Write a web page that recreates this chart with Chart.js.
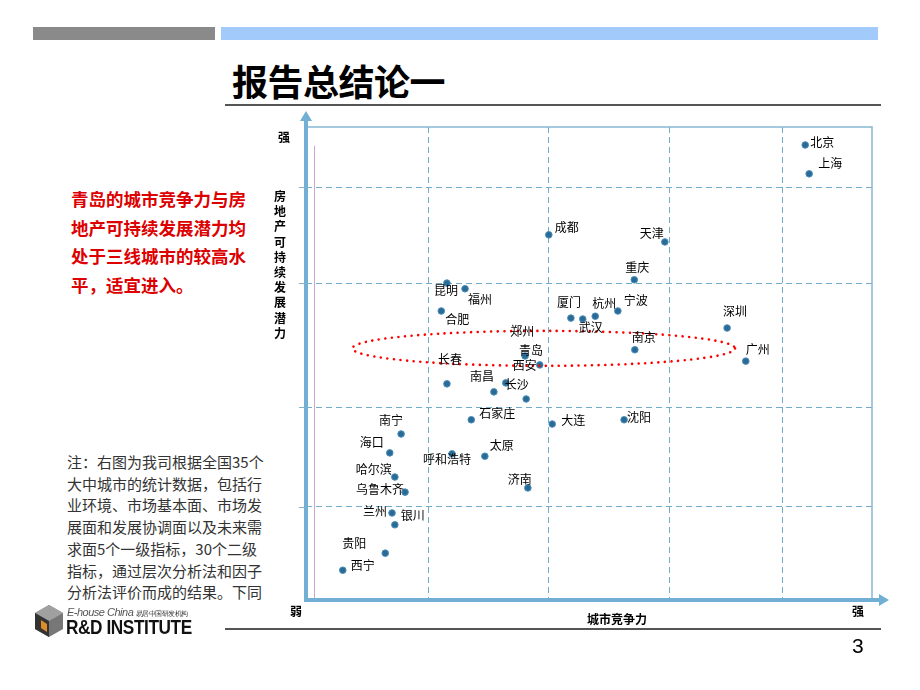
<!DOCTYPE html>
<html>
<head>
<meta charset="utf-8">
<script src="https://cdn.jsdelivr.net/npm/chart.js@4"></script>
<style>
  html, body { margin:0; padding:0; background:#fff; }
  #page { position:relative; width:920px; height:690px; overflow:hidden; font-family:"Noto Sans CJK SC", "Noto Sans", sans-serif; }
  #c { position:absolute; left:0; top:0; }
  .abs { position:absolute; white-space:nowrap; }
  .bar-gray { left:33px; top:27px; width:182px; height:13px; background:#8a8a8a; }
  .bar-blue { left:221px; top:27px; width:657px; height:13px; background:#a2cbfb; }
  .title { left:232px; top:56px; font-size:36px; font-weight:bold; color:#000; line-height:48px; letter-spacing:-0.5px; }
  .rule { left:225px; width:656px; height:2px; background:#555; }
  .red { left:71px; top:185px; font-size:17.5px; font-weight:bold; color:#dd0000; line-height:28.5px; }
  .note { left:67px; top:451px; font-size:15px; color:#333; line-height:21.7px; }
  .axlab { font-size:12px; font-weight:bold; color:#000; line-height:15px; }
  .vtitle { left:273px; top:188px; width:14px; text-align:center; white-space:normal; font-size:12px; font-weight:bold; line-height:15.2px; }
  .pnum { left:852px; top:634px; font-size:21px; font-family:"Liberation Sans", Arial, sans-serif; color:#000; }
</style>
</head>
<body>
<div id="page">
  <div class="abs bar-gray"></div>
  <div class="abs bar-blue"></div>
  <div class="abs title">报告总结论一</div>
  <div class="abs rule" style="top:104px;"></div>
  <div class="abs red">青岛的城市竞争力与房<br>地产可持续发展潜力均<br>处于三线城市的较高水<br>平，适宜进入。</div>
  <div class="abs note">注：右图为我司根据全国35个<br>大中城市的统计数据，包括行<br>业环境、市场基本面、市场发<br>展面和发展协调面以及未来需<br>求面5个一级指标，30个二级<br>指标，通过层次分析法和因子<br>分析法评价而成的结果。下同</div>
  <canvas id="c" width="920" height="690"></canvas>
  <div class="abs axlab" style="left:278px; top:129px;">强</div>
  <div class="abs axlab vtitle">房地产可持续发展潜力</div>
  <div class="abs axlab" style="left:290px; top:603px;">弱</div>
  <div class="abs axlab" style="left:852px; top:603px;">强</div>
  <div class="abs axlab" style="left:587px; top:611px;">城市竞争力</div>
  <div class="abs rule" style="top:628px; height:1.5px;"></div>
  <div class="abs pnum">3</div>
  <!-- logo -->
  <svg class="abs" style="left:33px; top:604px;" width="32" height="34" viewBox="0 0 32 34">
    <polygon points="16,1 30,9 30,25 16,33 2,25 2,9" fill="#777"/>
    <polygon points="16,1 30,9 16,17 2,9" fill="#a0a0a0"/>
    <polygon points="2,9 16,17 16,33 2,25" fill="#333"/>
    <polygon points="8,16 14,20 14,28 8,24" fill="#e08a2a"/>
  </svg>
  <div class="abs" style="left:67px; top:606px; font-size:11px; font-style:italic; color:#555; font-family:'Liberation Sans', sans-serif; letter-spacing:-0.5px;">E-house China <span style="font-style:normal; font-size:7px; color:#333;">易居中国研发机构</span></div>
  <div class="abs" style="left:66px; top:615px; font-size:21px; font-weight:bold; color:#111; font-family:'Liberation Sans', sans-serif; transform:scaleX(0.82); transform-origin:left top; letter-spacing:-0.5px;">R&amp;D INSTITUTE</div>
</div>
<script>
// ---- data ----
const cities = ["北京","上海","成都","天津","重庆","昆明","福州","合肥","厦门","武汉","杭州","宁波","南京","深圳","广州","郑州","青岛","西安","长春","南昌","长沙","石家庄","大连","沈阳","南宁","海口","呼和浩特","太原","哈尔滨","乌鲁木齐","济南","兰州","银川","贵阳","西宁"];
const competitiveness = [88.2,88.9,42.9,63.4,58.0,24.9,28.1,23.9,46.8,48.9,51.1,55.1,58.1,74.4,77.7,38.9,38.7,41.3,24.9,33.2,35.3,29.2,43.5,56.2,16.8,14.8,25.8,31.6,15.7,17.5,39.2,15.2,15.7,14.0,6.5];
const potential = [96.2,90.1,77.2,75.7,67.7,67.0,65.8,61.1,59.6,59.4,60.0,61.1,52.9,57.5,50.5,42.5,51.6,49.7,45.7,44.0,45.9,38.1,37.2,38.1,35.1,31.1,30.9,30.4,26.0,22.8,23.7,18.4,15.9,9.9,6.3];
const xGridValues = [21.6, 42.9, 64.3, 84.1];
const yGridValues = [19.7, 40.8, 67.0, 87.3];
// highlighted group (ellipse) in data units: center x, center y, half-width, half-height
const highlight = [42.0, 53.2, 33.8, 3.7];

// label placement offsets (pixels) relative to each point
const labelDx = [17,21,18,-13,3,-1,15,16,-2,8,9,18,9,8,12,-4,6,-15,3,-12,11,26,21,15,-10,-18,-5,17,-21,-25,-8,-17,18,-31,20];
const labelDy = [-3,-10,-7,-9,-12,7,11,8,-16,8,-13,-11,-12,-17,-12,-68,-5,1,-24,-15,2,-6,-4,-2,-14,-10,6,-11,-8,-3,-8,-2,-9,-10,-5];

const points = cities.map((c, i) => ({ x: competitiveness[i], y: potential[i] }));

const decor = {
  id: 'decor',
  beforeDatasetsDraw(chart) {
    const ctx = chart.ctx, xs = chart.scales.x, ys = chart.scales.y;
    const L = xs.getPixelForValue(0), R = xs.getPixelForValue(100);
    const B = ys.getPixelForValue(0), T = ys.getPixelForValue(100);
    ctx.save();
    ctx.strokeStyle = '#c8a8cc'; ctx.lineWidth = 1;
    ctx.beginPath(); ctx.moveTo(L + 8.5, ys.getPixelForValue(96)); ctx.lineTo(L + 8.5, B - 2); ctx.stroke();
    ctx.strokeStyle = '#86b6d2'; ctx.lineWidth = 1.5;
    ctx.beginPath(); ctx.moveTo(L, T); ctx.lineTo(R, T); ctx.lineTo(R, B); ctx.stroke();
    ctx.strokeStyle = '#72afd4'; ctx.fillStyle = '#72afd4'; ctx.lineWidth = 4;
    ctx.beginPath(); ctx.moveTo(L, B + 2); ctx.lineTo(L, T - 8); ctx.stroke();
    ctx.beginPath(); ctx.moveTo(L, T - 16); ctx.lineTo(L - 6, T - 6); ctx.lineTo(L + 6, T - 6); ctx.closePath(); ctx.fill();
    ctx.beginPath(); ctx.moveTo(L - 2, B); ctx.lineTo(R + 8, B); ctx.stroke();
    ctx.beginPath(); ctx.moveTo(R + 17, B); ctx.lineTo(R + 7, B - 6); ctx.lineTo(R + 7, B + 6); ctx.closePath(); ctx.fill();
    ctx.strokeStyle = '#7fb3cf'; ctx.lineWidth = 1;
    yGridValues.forEach(v => { const y = Math.round(ys.getPixelForValue(v)) + 0.5; ctx.beginPath(); ctx.moveTo(L - 7, y); ctx.lineTo(L, y); ctx.stroke(); });
    ctx.restore();
  },
  afterDatasetsDraw(chart) {
    const ctx = chart.ctx, xs = chart.scales.x, ys = chart.scales.y;
    ctx.save();
    const cx = xs.getPixelForValue(highlight[0]), cy = ys.getPixelForValue(highlight[1]);
    const rx = xs.getPixelForValue(highlight[0] + highlight[2]) - cx;
    const ry = cy - ys.getPixelForValue(highlight[1] + highlight[3]);
    ctx.strokeStyle = '#ff0000'; ctx.lineWidth = 2.6; ctx.lineCap = 'round';
    ctx.setLineDash([0.01, 6.6]);
    ctx.beginPath(); ctx.ellipse(cx, cy, rx, ry, 0, 0, Math.PI * 2); ctx.stroke();
    ctx.setLineDash([]);
    ctx.fillStyle = '#000'; ctx.font = '12px "Noto Sans CJK SC"';
    ctx.textAlign = 'center'; ctx.textBaseline = 'middle';
    const meta = chart.getDatasetMeta(0);
    meta.data.forEach((el, i) => { ctx.fillText(cities[i], el.x + labelDx[i], el.y + labelDy[i]); });
    ctx.restore();
  }
};

new Chart(document.getElementById('c'), {
  type: 'scatter',
  data: { datasets: [{ data: points, backgroundColor: '#2a6b96', borderColor: '#4d8fba', borderWidth: 1, pointRadius: 3.3, pointHoverRadius: 3.3 }] },
  options: {
    responsive: false, animation: false, devicePixelRatio: 1,
    layout: { padding: { left: 306, right: 48, top: 127, bottom: 90 } },
    plugins: { legend: { display: false }, tooltip: { enabled: false } },
    scales: {
      x: { type: 'linear', min: 0, max: 100,
           afterBuildTicks: s => { s.ticks = xGridValues.map(v => ({ value: v })); },
           ticks: { display: false },
           grid: { color: '#72acca', lineWidth: 1, drawTicks: false },
           border: { display: false, dash: [6, 4] } },
      y: { type: 'linear', min: 0, max: 100,
           afterBuildTicks: s => { s.ticks = yGridValues.map(v => ({ value: v })); },
           ticks: { display: false },
           grid: { color: '#72acca', lineWidth: 1, drawTicks: false },
           border: { display: false, dash: [6, 4] } }
    }
  },
  plugins: [decor]
});
</script>
</body>
</html>
